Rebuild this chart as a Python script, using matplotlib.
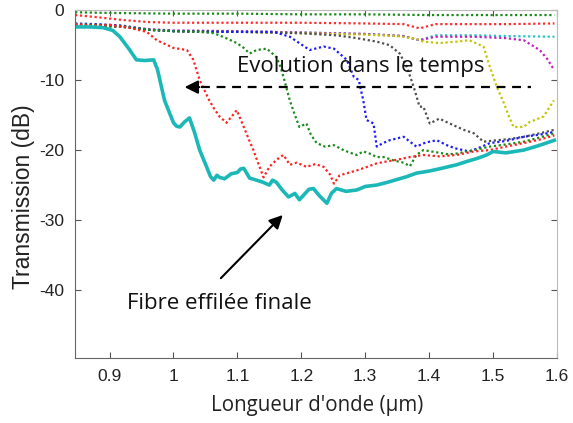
import matplotlib
matplotlib.use("Agg")
import matplotlib.pyplot as plt

# ---------------- data ----------------
# final tapered fibre (solid cyan)
final_x = [0.846, 0.87, 0.89, 0.905, 0.916, 0.93, 0.942, 0.955, 0.969, 0.975, 0.98, 0.986, 0.993,
           1.000, 1.005, 1.010, 1.017, 1.025, 1.033, 1.041, 1.05, 1.058, 1.063, 1.068, 1.072, 1.08,
           1.09, 1.10, 1.105, 1.110, 1.119, 1.13, 1.14, 1.15, 1.155, 1.161, 1.17, 1.18, 1.19, 1.197,
           1.205, 1.212, 1.219, 1.228, 1.24, 1.247, 1.255, 1.27, 1.287, 1.30, 1.318, 1.335, 1.35,
           1.365, 1.38, 1.40, 1.42, 1.443, 1.46, 1.475, 1.49, 1.50, 1.52, 1.548, 1.57, 1.596]
final_y = [-2.4, -2.4, -2.5, -2.9, -3.8, -5.5, -7.1, -7.2, -7.1, -8.5, -10.5, -12.9, -14.5,
           -16.1, -16.6, -16.7, -16.0, -15.4, -17.5, -20.0, -22.0, -23.8, -24.3, -23.6, -23.9, -24.1,
           -23.4, -23.2, -22.7, -22.6, -24.0, -24.3, -24.6, -25.0, -24.3, -24.6, -25.7, -26.7, -26.2, -27.1,
           -26.3, -25.6, -25.5, -26.5, -27.6, -26.2, -25.5, -25.9, -25.7, -25.2, -25.0, -24.6, -24.2,
           -23.8, -23.3, -23.0, -22.6, -22.1, -21.6, -21.2, -20.7, -20.2, -20.4, -20.0, -19.4, -18.6]

red_x = [0.846, 0.87, 0.90, 0.93, 0.958, 0.974, 1.000, 1.021, 1.031, 1.041, 1.056, 1.063, 1.072,
         1.083, 1.099, 1.110, 1.118, 1.125, 1.133, 1.141, 1.150, 1.161, 1.172, 1.182, 1.193, 1.208,
         1.222, 1.235, 1.245, 1.251, 1.260, 1.272, 1.287, 1.300, 1.318, 1.335, 1.349, 1.370, 1.391,
         1.416, 1.443, 1.470, 1.495, 1.520, 1.548, 1.573, 1.596]
red_y = [-2.0, -2.2, -2.1, -2.5, -3.1, -4.3, -5.4, -5.7, -7.1, -10.0, -12.9, -14.0, -15.2,
         -16.1, -14.3, -16.7, -18.5, -20.0, -22.0, -23.9, -22.4, -21.4, -20.7, -22.1, -21.8, -22.4,
         -22.0, -22.4, -23.5, -24.8, -23.6, -23.3, -22.9, -22.5, -21.9, -21.6, -21.4, -21.0, -20.7,
         -20.9, -20.7, -20.2, -20.0, -19.5, -19.0, -18.5, -17.9]

green_x = [0.846, 0.88, 0.92, 0.96, 1.00, 1.04, 1.063, 1.08, 1.099, 1.11, 1.119, 1.13, 1.146, 1.161,
           1.167, 1.172, 1.177, 1.182, 1.190, 1.197, 1.208, 1.215, 1.224, 1.237, 1.251, 1.266, 1.277,
           1.287, 1.297, 1.307, 1.318, 1.329, 1.345, 1.360, 1.370, 1.380, 1.391, 1.41, 1.43, 1.443,
           1.47, 1.495, 1.52, 1.548, 1.573, 1.596]
green_y = [-2.0, -2.1, -2.3, -2.8, -3.0, -3.1, -3.3, -3.9, -4.7, -5.4, -6.2, -5.7, -5.5, -6.7,
           -8.0, -9.5, -11.2, -12.9, -15.0, -16.7, -16.2, -17.8, -19.0, -19.5, -19.3, -20.0, -20.4,
           -20.7, -20.2, -20.5, -21.0, -21.0, -21.5, -21.8, -22.3, -20.7, -20.0, -20.3, -20.6, -20.5,
           -20.0, -19.5, -19.2, -18.8, -18.2, -17.6]

blue_x = [0.846, 0.88, 0.92, 0.96, 1.00, 1.05, 1.10, 1.157, 1.182, 1.213, 1.235, 1.251, 1.271, 1.282,
          1.290, 1.293, 1.297, 1.302, 1.313, 1.318, 1.328, 1.338, 1.360, 1.380, 1.395, 1.412, 1.43,
          1.443, 1.463, 1.48, 1.495, 1.52, 1.548, 1.573, 1.596]
blue_y = [-1.9, -2.0, -2.2, -2.8, -3.0, -3.1, -3.1, -3.1, -3.8, -5.7, -5.2, -5.5, -7.1, -9.5,
          -10.0, -11.3, -12.9, -15.7, -16.2, -19.5, -19.0, -18.6, -18.1, -19.5, -18.9, -18.6, -19.4,
          -19.8, -20.2, -19.6, -19.0, -18.7, -18.1, -17.8, -17.4]

black_x = [0.846, 0.88, 0.92, 0.96, 1.00, 1.05, 1.10, 1.15, 1.20, 1.255, 1.287, 1.318, 1.338, 1.354,
           1.365, 1.376, 1.385, 1.391, 1.401, 1.416, 1.432, 1.454, 1.470, 1.485, 1.506, 1.527, 1.548,
           1.573, 1.596]
black_y = [-2.2, -2.3, -2.4, -2.8, -3.0, -3.0, -3.1, -3.2, -3.3, -3.6, -4.0, -4.5, -5.0, -6.2,
           -8.1, -11.0, -13.8, -13.8, -16.2, -15.5, -16.2, -17.1, -17.6, -18.8, -18.6, -18.4, -18.1,
           -17.6, -17.1]

yellow_x = [0.846, 0.88, 0.92, 0.96, 1.00, 1.05, 1.10, 1.15, 1.20, 1.25, 1.30, 1.35, 1.380, 1.391,
            1.416, 1.443, 1.463, 1.485, 1.495, 1.506, 1.517, 1.525, 1.532, 1.548, 1.557, 1.579, 1.595]
yellow_y = [-2.1, -2.2, -2.4, -2.8, -3.0, -3.1, -3.1, -3.2, -3.3, -3.4, -3.5, -3.7, -4.1, -4.5,
            -4.7, -4.5, -4.3, -5.2, -8.1, -11.0, -13.3, -15.2, -16.7, -16.7, -16.0, -15.2, -12.9]

magenta_x = [0.846, 0.88, 0.92, 0.96, 1.00, 1.10, 1.20, 1.30, 1.36, 1.385, 1.41, 1.47, 1.52, 1.548,
             1.573, 1.585, 1.596]
magenta_y = [-2.0, -2.1, -2.3, -2.7, -2.9, -3.0, -3.2, -3.4, -3.7, -4.3, -3.8, -3.8, -4.0, -4.3,
             -5.7, -7.0, -8.6]

cyan_top_x = [0.846, 0.88, 0.92, 0.96, 1.00, 1.10, 1.20, 1.30, 1.36, 1.385, 1.41, 1.47, 1.52, 1.596]
cyan_top_y = [-2.0, -2.2, -2.4, -2.8, -3.0, -3.1, -3.2, -3.4, -3.7, -4.3, -3.6, -3.6, -3.7, -3.8]

red_top_x = [0.846, 0.88, 0.92, 0.96, 1.00, 1.10, 1.20, 1.30, 1.36, 1.385, 1.41, 1.47, 1.52, 1.596]
red_top_y = [-0.7, -1.0, -1.4, -1.7, -1.8, -1.8, -1.8, -1.9, -2.0, -2.6, -2.0, -2.0, -2.0, -1.9]

green_top_x = [0.846, 0.90, 1.00, 1.10, 1.20, 1.30, 1.40, 1.50, 1.596]
green_top_y = [-0.3, -0.4, -0.5, -0.5, -0.6, -0.6, -0.7, -0.7, -0.7]

x_ticks = [0.9, 1.0, 1.1, 1.2, 1.3, 1.4, 1.5, 1.6]
x_tick_labels = ["0.9", "1", "1.1", "1.2", "1.3", "1.4", "1.5", "1.6"]
y_ticks = [0, -10, -20, -30, -40]
y_tick_labels = ["0", "-10", "-20", "-30", "-40"]

# ---------------- figure ----------------
fig = plt.figure(figsize=(5.73, 4.23), dpi=100)
ax = fig.add_axes([0.131, 0.154, 0.841, 0.822])

dot = dict(linestyle=(0, (1, 1.2)), lw=1.6)
ax.plot(green_top_x, green_top_y, color="#1a8a1a", **dot)
ax.plot(red_top_x, red_top_y, color="#ff2a2a", **dot)
ax.plot(cyan_top_x, cyan_top_y, color="#22c4c4", **dot)
ax.plot(magenta_x, magenta_y, color="#c020c0", **dot)
ax.plot(yellow_x, yellow_y, color="#c4c400", **dot)
ax.plot(black_x, black_y, color="#505050", **dot)
ax.plot(blue_x, blue_y, color="#1a1aff", **dot)
ax.plot(green_x, green_y, color="#1a8a1a", **dot)
ax.plot(red_x, red_y, color="#ff2020", **dot)
ax.plot(final_x, final_y, color="#1cb8b8", lw=2.6, solid_joinstyle="round")

ax.set_xlim(0.846, 1.6)
ax.set_ylim(-49.7, 0)
ax.set_xticks(x_ticks)
ax.set_xticklabels(x_tick_labels)
ax.set_yticks(y_ticks)
ax.set_yticklabels(y_tick_labels)
ax.tick_params(direction="in", length=4, width=0.8, color="#555555", top=True, right=True,
               labelsize=12.5, labelcolor="#222222", pad=8)
for lab in ax.get_xticklabels() + ax.get_yticklabels():
    lab.set_family("Liberation Sans")
for side in ["left", "bottom"]:
    ax.spines[side].set_color("#666666")
for side in ["top", "right"]:
    ax.spines[side].set_color("#bbbbbb")

ax.set_ylabel("Transmission (dB)", family="Liberation Sans", fontsize=16.5, color="#222222")
ax.yaxis.set_label_coords(-0.083, 0.4625)
ax.set_xlabel("Longueur d'onde (µm)", family="Open Sans", fontsize=14.8, color="#222222")
ax.xaxis.set_label_coords(0.503, -0.108)

# dashed "time evolution" arrow
ax.plot([1.043, 1.56], [-11.0, -11.0], color="black", lw=1.6, linestyle=(0, (4, 3)))
ax.annotate("", xy=(1.013, -11.0), xytext=(1.045, -11.0),
            arrowprops=dict(arrowstyle="-|>", color="black", lw=1.5, mutation_scale=20))
ax.text(1.099, -8.0, "Evolution dans le temps", family="Open Sans", fontsize=16,
        color="#111111", ha="left", va="center")

# final fibre arrow
ax.annotate("", xy=(1.174, -29.0), xytext=(1.071, -38.6),
            arrowprops=dict(arrowstyle="-|>", color="black", lw=1.5, mutation_scale=20))
ax.text(0.927, -42.0, "Fibre effilée finale", family="Open Sans", fontsize=16,
        color="#111111", ha="left", va="center")

fig.savefig("out.png", dpi=100)
